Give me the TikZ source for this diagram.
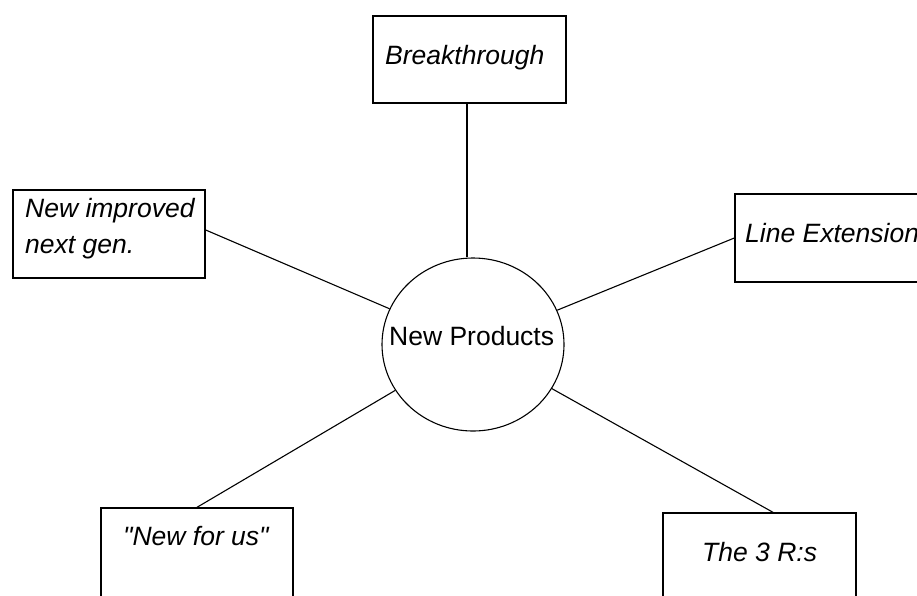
\documentclass[tikz,border=0pt]{standalone}
\usepackage{fontspec}
\setmainfont{Liberation Sans}[Ligatures=TeXOff]
\usetikzlibrary{shapes.geometric}
\begin{document}
\begin{tikzpicture}[x=1pt,y=-1pt,
  box/.style={draw, line width=1.4pt, rectangle, inner sep=0pt},
  hub/.style={draw, line width=1.1pt, ellipse, inner sep=0pt, minimum width=182pt, minimum height=173pt},
  lbl/.style={inner sep=0pt, font=\fontsize{26.5}{36}\selectfont\itshape},
  hublbl/.style={inner sep=0pt, font=\fontsize{26.5}{36}\selectfont},
  conn/.style={line width=1.1pt}]
\useasboundingbox (0,0) rectangle (917,595);
\clip (0,0) rectangle (917,595);
% boxes
\node[box, minimum width=193pt, minimum height=87pt] (bt) at (469.5,59.5) {};
\node[box, minimum width=192pt, minimum height=88pt] (ni) at (109,234) {};
\node[box, minimum width=200pt, minimum height=88pt] (le) at (835,238) {};
\node[box, minimum width=192pt, minimum height=120pt] (nfu) at (197,568) {};
\node[box, minimum width=193pt, minimum height=120pt] (r3) at (759.5,573) {};
\node[hub] (np) at (473,344.5) {};
% labels
\node[lbl, anchor=base west] (tbt) at (385,64) {Breakthrough};
\node[lbl, anchor=base west] (tni1) at (25,217) {New improved};
\node[lbl, anchor=base west] (tni2) at (25,253) {next gen.};
\node[lbl, anchor=base west] (tle) at (745,242) {Line Extension};
\node[lbl, anchor=base west] (tnfu) at (123,545) {"New for us"};
\node[lbl, anchor=base west] (tr3) at (702,561) {The 3 R:s};
\node[hublbl, anchor=base west] (tnp) at (389,345) {New Products};
% connectors
\coordinate (btfoot) at (bt.south -| 467,0);
\draw[conn] (btfoot) -- (btfoot |- np.north);
\draw[conn] ([yshift=4pt]ni.east) -- (np);
\draw[conn] (le.west) -- (np);
\draw[conn] (nfu.north) -- (np);
\coordinate (r3top) at ([xshift=13.5pt]r3.north);
\draw[conn] (r3top) -- (np);
\end{tikzpicture}
\end{document}
